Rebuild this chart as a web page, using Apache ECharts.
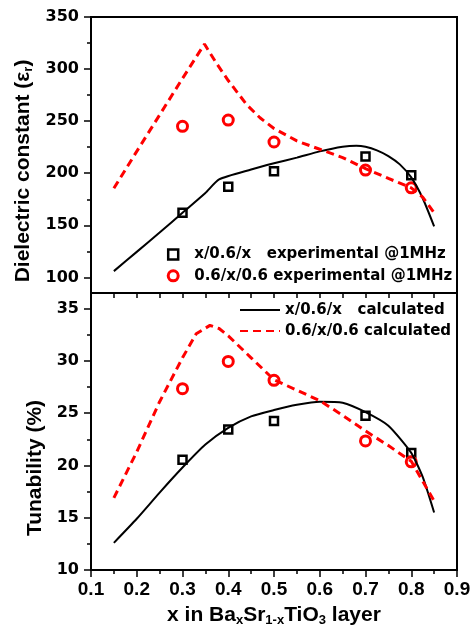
<!DOCTYPE html>
<html>
<head>
<meta charset="utf-8">
<script src="https://cdn.jsdelivr.net/npm/echarts@6/dist/echarts.min.js"></script>
<style>
html, body { margin: 0; padding: 0; background: #fff; }
#chart { width: 475px; height: 628px; }
</style>
</head>
<body>
<div id="chart"></div>
<script>
// measured points (x = Ba fraction)
const xExp = [0.3, 0.4, 0.5, 0.7, 0.8];
const epsSquare = [162, 187, 202, 216, 198];
const epsCircle = [245, 251, 230, 203, 186];
const tunSquare = [20.55, 23.45, 24.25, 24.75, 21.2];
const tunCircle = [27.35, 29.95, 28.15, 22.35, 20.35];

// calculated curves
const epsSolidX = [0.15, 0.2, 0.25, 0.3, 0.35, 0.38, 0.45, 0.5, 0.55, 0.6, 0.65, 0.68, 0.7, 0.725, 0.75, 0.775, 0.8, 0.825, 0.85];
const epsSolid = [106, 124.5, 143, 162, 181, 194, 203.5, 209.5, 215, 221, 225.5, 226.5, 225.5, 222, 216.5, 208.5, 196, 176, 149];
const epsDashX = [0.15, 0.2, 0.25, 0.3, 0.348, 0.375, 0.4, 0.44, 0.47, 0.5, 0.55, 0.6, 0.65, 0.7, 0.75, 0.8, 0.825, 0.85];
const epsDash = [185.5, 221, 256, 291, 324, 305, 289, 266, 253, 243, 231, 223, 215, 204.5, 195, 186, 177, 162];
const tunSolidX = [0.15, 0.2, 0.25, 0.3, 0.35, 0.4, 0.45, 0.5, 0.55, 0.6, 0.65, 0.7, 0.75, 0.8, 0.825, 0.85];
const tunSolid = [12.6, 14.9, 17.4, 19.8, 22.0, 23.6, 24.7, 25.3, 25.8, 26.1, 26.0, 25.1, 23.8, 21.2, 18.9, 15.5];
const tunDashX = [0.15, 0.2, 0.25, 0.3, 0.33, 0.36, 0.38, 0.4, 0.45, 0.5, 0.55, 0.6, 0.65, 0.7, 0.75, 0.8, 0.85];
const tunDash = [16.9, 21.3, 26.1, 30.3, 32.6, 33.4, 33.1, 32.4, 30.3, 28.2, 27.2, 26.2, 24.8, 23.3, 21.9, 20.4, 16.6];

// tick labels
const epsTicks = [100, 150, 200, 250, 300, 350];
const epsMinor = [125, 175, 225, 275, 325];
const tunTicks = [10, 15, 20, 25, 30, 35];
const tunMinor = [12.5, 17.5, 22.5, 27.5, 32.5];

const nameSq = 'x/0.6/x   experimental @1MHz';
const nameCi = '0.6/x/0.6 experimental @1MHz';
const nameSolid = 'x/0.6/x   calculated';
const nameDash = '0.6/x/0.6 calculated';

const pairs = (xs, ys) => xs.map((x, i) => [x, ys[i]]);

const black = '#000';
const red = '#ff0000';
const lineAx = { lineStyle: { color: black, width: 2 } };
const yLabel = { fontFamily: 'DejaVu Sans', fontWeight: 'bold', fontSize: 16, color: black, margin: 12 };
const nameFont = { fontFamily: 'Liberation Sans', fontWeight: 'bold', fontSize: 21, color: black };
const subFont = { fontFamily: 'Liberation Sans', fontWeight: 'bold', fontSize: 13, color: black, lineHeight: 13, padding: [9, 0, 0, 0] };
const legendText = { fontFamily: 'DejaVu Sans', fontWeight: 'bold', fontSize: 15, color: black, lineHeight: 16 };

const chart = echarts.init(document.getElementById('chart'));

const option = {
    animation: false,
    backgroundColor: '#fff',
    grid: [
        { left: 91, top: 17, width: 366, height: 276, show: true, borderColor: black, borderWidth: 2 },
        { left: 91, top: 293, width: 366, height: 277, show: true, borderColor: black, borderWidth: 2 }
    ],
    legend: [
        {
            orient: 'vertical', left: 166.7, top: 247, padding: 0, itemGap: 6.3,
            itemWidth: 10, itemHeight: 10,
            formatter: '{t|{name}}',
            textStyle: { rich: { t: Object.assign({ padding: [0, 0, 0, 11] }, legendText) } },
            data: [
                { name: nameSq, icon: 'rect', itemStyle: { color: '#fff', borderColor: black, borderWidth: 2.5 } },
                { name: nameCi, icon: 'circle', itemStyle: { color: '#fff', borderColor: red, borderWidth: 3 } }
            ]
        },
        {
            orient: 'vertical', left: 239, top: 302, padding: 0, itemGap: 5,
            itemWidth: 40, itemHeight: 14,
            textStyle: legendText,
            data: [
                { name: nameSolid, itemStyle: { opacity: 0 } },
                { name: nameDash, itemStyle: { opacity: 0 } }
            ]
        }
    ],
    xAxis: [
        {
            gridIndex: 0, type: 'value', min: 0.1, max: 0.9, interval: 0.05,
            axisLine: lineAx,
            axisTick: { length: 5, lineStyle: { color: black, width: 1.5 } },
            axisLabel: { show: false },
            splitLine: { show: false }
        },
        {
            gridIndex: 1, type: 'value', min: 0.1, max: 0.9, interval: 0.1,
            name: '{a|x in Ba}{s|x}{a|Sr}{s|1-x}{a|TiO}{s|3}{a| layer}',
            nameLocation: 'middle', nameGap: 35,
            nameTextStyle: { rich: { a: nameFont, s: subFont } },
            axisLine: lineAx,
            axisTick: { length: 7, lineStyle: { color: black, width: 1.5 } },
            minorTick: { show: true, splitNumber: 2, length: 4, lineStyle: { color: black, width: 1.5 } },
            axisLabel: {
                fontFamily: 'Liberation Sans', fontWeight: 'bold', fontSize: 19, color: black, margin: 10,
                formatter: v => v.toFixed(1)
            },
            splitLine: { show: false }
        }
    ],
    yAxis: [
        {
            gridIndex: 0, type: 'value', min: 85, max: 350, position: 'left',
            name: '{a|Dielectric constant (ε}{s|r}{a|)}',
            nameLocation: 'middle', nameGap: 56,
            nameTextStyle: { padding: [0, 32, 0, 0], rich: { a: nameFont, s: subFont } },
            axisLine: lineAx,
            axisTick: { customValues: epsTicks, length: 7, lineStyle: { color: black, width: 1.5 } },
            axisLabel: Object.assign({ customValues: epsTicks }, yLabel),
            splitLine: { show: false }
        },
        {
            gridIndex: 0, type: 'value', min: 85, max: 350, position: 'left',
            axisLine: { show: false },
            axisTick: { customValues: epsMinor, length: 4, lineStyle: { color: black, width: 1.5 } },
            axisLabel: { show: false },
            splitLine: { show: false }
        },
        {
            gridIndex: 1, type: 'value', min: 10, max: 36.5, position: 'left',
            name: 'Tunability (%)',
            nameLocation: 'middle', nameGap: 41,
            nameTextStyle: Object.assign({ padding: [0, 73, 0, 0] }, nameFont),
            axisLine: lineAx,
            axisTick: { customValues: tunTicks, length: 7, lineStyle: { color: black, width: 1.5 } },
            axisLabel: Object.assign({ customValues: tunTicks }, yLabel),
            splitLine: { show: false }
        },
        {
            gridIndex: 1, type: 'value', min: 10, max: 36.5, position: 'left',
            axisLine: { show: false },
            axisTick: { customValues: tunMinor, length: 4, lineStyle: { color: black, width: 1.5 } },
            axisLabel: { show: false },
            splitLine: { show: false }
        }
    ],
    series: [
        {
            name: nameSolid, type: 'line', xAxisIndex: 0, yAxisIndex: 0, symbol: 'none', smooth: 0.2,
            lineStyle: { color: black, width: 2 }, itemStyle: { color: black },
            data: pairs(epsSolidX, epsSolid)
        },
        {
            name: nameDash, type: 'line', xAxisIndex: 0, yAxisIndex: 0, symbol: 'none',
            lineStyle: { color: red, width: 3, type: [8, 5] }, itemStyle: { color: red },
            data: pairs(epsDashX, epsDash)
        },
        {
            name: nameSq, type: 'scatter', xAxisIndex: 0, yAxisIndex: 0, symbol: 'rect', symbolSize: 8,
            itemStyle: { color: '#fff', borderColor: black, borderWidth: 2.5, opacity: 1 },
            data: pairs(xExp, epsSquare)
        },
        {
            name: nameCi, type: 'scatter', xAxisIndex: 0, yAxisIndex: 0, symbol: 'circle', symbolSize: 10,
            itemStyle: { color: 'rgba(0,0,0,0)', borderColor: red, borderWidth: 3, opacity: 1 },
            data: pairs(xExp, epsCircle)
        },
        {
            name: nameSolid, type: 'line', xAxisIndex: 1, yAxisIndex: 2, symbol: 'none', smooth: 0.2,
            lineStyle: { color: black, width: 2 }, itemStyle: { color: black },
            data: pairs(tunSolidX, tunSolid)
        },
        {
            name: nameDash, type: 'line', xAxisIndex: 1, yAxisIndex: 2, symbol: 'none',
            lineStyle: { color: red, width: 3, type: [8, 5] }, itemStyle: { color: red },
            data: pairs(tunDashX, tunDash)
        },
        {
            name: nameSq, type: 'scatter', xAxisIndex: 1, yAxisIndex: 2, symbol: 'rect', symbolSize: 8,
            itemStyle: { color: '#fff', borderColor: black, borderWidth: 2.5, opacity: 1 },
            data: pairs(xExp, tunSquare)
        },
        {
            name: nameCi, type: 'scatter', xAxisIndex: 1, yAxisIndex: 2, symbol: 'circle', symbolSize: 10,
            itemStyle: { color: 'rgba(0,0,0,0)', borderColor: red, borderWidth: 3, opacity: 1 },
            data: pairs(xExp, tunCircle)
        }
    ]
};

chart.setOption(option);
</script>
</body>
</html>
